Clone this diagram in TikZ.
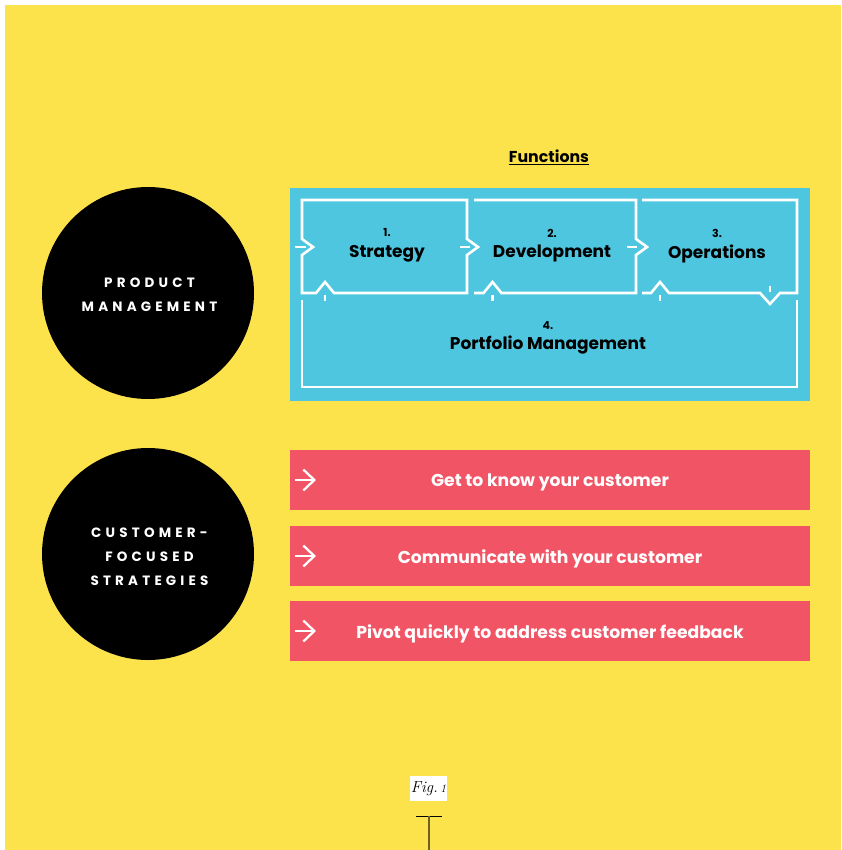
\documentclass[tikz,border=0pt]{standalone}
\usepackage{fontspec}
\newfontfamily\gfont{Poppins}
\newfontfamily\gspaced{Poppins}[LetterSpace=31]
\definecolor{bgyellow}{HTML}{FDE34B}
\definecolor{fnblue}{HTML}{4FC6DF}
\definecolor{cxred}{HTML}{F15464}
\definecolor{stemgray}{HTML}{6E6220}
\tikzset{
  wline/.style={draw=white, line width=2.6pt, line join=miter},
  fbox/.style={fill=fnblue},
  rbox/.style={fill=cxred, minimum width=520pt, minimum height=60pt, inner sep=0pt},
  ring/.style={circle, fill=black, minimum size=212pt, inner sep=0pt},
  ringtext/.style={text=white, align=center, font=\gspaced\bfseries\fontsize{13.5}{24}\selectfont},
  steptext/.style={text=black, align=center, font=\gfont\bfseries\fontsize{17}{20}\selectfont},
  numtext/.style={text=black, font=\gfont\bfseries\fontsize{11}{12}\selectfont},
  redtext/.style={text=white, font=\gfont\bfseries\fontsize{17.2}{20}\selectfont},
  warrow/.style={draw=white, line width=2.3pt},
}
\begin{document}
\begin{tikzpicture}[x=1pt, y=-1pt]
\useasboundingbox (0,0) rectangle (841,850);
% page background
\fill[bgyellow] (5,5) rectangle (841,850);

% left-hand circles
\node[ring] (pm) at (148,293) {};
\node[ringtext] at ([xshift=1.5pt,yshift=-1.5pt]pm.center) {PRODUCT\\MANAGEMENT};
\node[ring] (cf) at (148,554) {};
\node[ringtext] at ([xshift=1.5pt,yshift=-2.5pt]cf.center) {CUSTOMER-\\FOCUSED\\STRATEGIES};

% functions heading
\node[text=black, font=\gfont\bfseries\fontsize{15.8}{18}\selectfont] (head) at (549,157) {\underline{Functions}};

% functions panel
\fill[fbox] (290,188) rectangle (810,401);
% 1. Strategy
\draw[wline] (302,293) -- (302,255) -- (313,247) -- (302,239) -- (302,200) -- (467,200)
  -- (467,239) -- (478,247) -- (467,255) -- (467,293) -- (334,293) -- (325,282) -- (316,293) -- cycle;
% 2. Development
\draw[wline] (474,200) -- (636,200) -- (636,239) -- (647,247) -- (636,255) -- (636,293)
  -- (501.5,293) -- (492.5,282) -- (483.5,293) -- (474,293);
% 3. Operations
\draw[wline] (642,200) -- (797,200) -- (797,293) -- (780,293) -- (770,304) -- (760,293)
  -- (669,293) -- (660,282) -- (651,293) -- (642,293);
% 4. Portfolio Management
\draw[wline] (302,300) -- (302,387) -- (797,387) -- (797,299.5);
% arrow shafts
\draw[wline] (295,247) -- (306,247);
\draw[wline] (460,247) -- (470,247);
\draw[wline] (627,247) -- (637,247);
\draw[wline] (325,295) -- (325,300.5);
\draw[wline] (492.5,295) -- (492.5,300.5);
\draw[wline] (660,295) -- (660,300.5);
\draw[wline] (770,285.5) -- (770,291.5);

\node[numtext] (n1) at (387,233) {1.};
\node[steptext] (s1) at (387,253.5) {Strategy};
\node[numtext] (n2) at (552,233) {2.};
\node[steptext] (s2) at (552,253.5) {Development};
\node[numtext] (n3) at (717,233) {3.};
\node[steptext] (s3) at (717,253.5) {Operations};
\node[numtext] (n4) at (548,326) {4.};
\node[steptext] (s4) at (548,345.5) {Portfolio Management};

% customer strategies
\node[rbox] (r1) at (550,480) {};
\node[rbox] (r2) at (550,556) {};
\node[rbox] (r3) at (550,631) {};
\node[redtext] at (550,482.5) {Get to know your customer};
\node[redtext] at (550,558.5) {Communicate with your customer};
\node[redtext] at (550,633.5) {Pivot quickly to address customer feedback};
\foreach \r in {r1,r2,r3}{
  \draw[warrow] ([xshift=5pt]\r.west) -- ([xshift=24pt]\r.west);
  \draw[warrow] ([xshift=13.5pt,yshift=-10.5pt]\r.west) -- ([xshift=24.5pt]\r.west) -- ([xshift=13.5pt,yshift=10.5pt]\r.west);
}

% caption
\node[fill=white, minimum width=37pt, minimum height=25pt, inner sep=0pt,
      font=\itshape\fontsize{16}{18}\selectfont] (cap) at (428.5,788.5) {Fig.\,{\fontsize{11.5}{12}\selectfont 1}};
\coordinate (stemtop) at (429,816);
\coordinate (stembot) at (429,850);
\draw[black, line width=1pt] ([xshift=-13pt]stemtop) -- ([xshift=13pt]stemtop);
\draw[stemgray, line width=1.5pt] (stemtop) -- (stembot);
\end{tikzpicture}
\end{document}
